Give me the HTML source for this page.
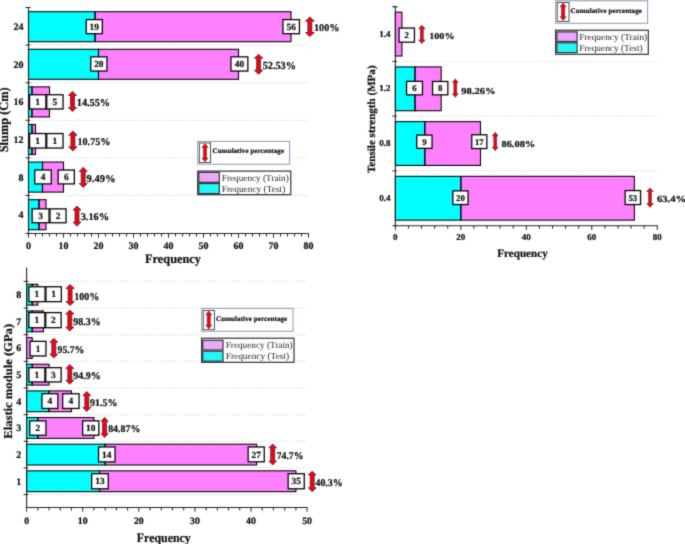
<!DOCTYPE html>
<html><head><meta charset="utf-8"><title>Frequency charts</title>
<style>
html,body{margin:0;padding:0;background:#fff;}
body{width:685px;height:544px;overflow:hidden;}
svg{display:block;font-family:"Liberation Serif", serif;text-rendering:geometricPrecision;}
</style></head>
<body>
<svg width="685" height="544" viewBox="0 0 685 544">
<defs><filter id="soft" filterUnits="userSpaceOnUse" x="0" y="0" width="685" height="544" color-interpolation-filters="sRGB"><feConvolveMatrix order="3" kernelMatrix="0.01960 0.10080 0.01960 0.10080 0.51840 0.10080 0.01960 0.10080 0.01960" edgeMode="duplicate"/></filter></defs>
<g filter="url(#soft)">
<rect x="0" y="0" width="685" height="544" fill="#ffffff"/>
<line x1="29.5" y1="45.1" x2="308.5" y2="45.1" stroke="#d6d6d6" stroke-width="0.9" stroke-dasharray="1.1,1.1"/>
<line x1="29.5" y1="82.7" x2="308.5" y2="82.7" stroke="#d6d6d6" stroke-width="0.9" stroke-dasharray="1.1,1.1"/>
<line x1="29.5" y1="120.3" x2="308.5" y2="120.3" stroke="#d6d6d6" stroke-width="0.9" stroke-dasharray="1.1,1.1"/>
<line x1="29.5" y1="157.9" x2="308.5" y2="157.9" stroke="#d6d6d6" stroke-width="0.9" stroke-dasharray="1.1,1.1"/>
<line x1="29.5" y1="195.5" x2="308.5" y2="195.5" stroke="#d6d6d6" stroke-width="0.9" stroke-dasharray="1.1,1.1"/>
<rect x="28.5" y="11.7" width="66.5" height="30" fill="#00ffff"/>
<rect x="95" y="11.7" width="196" height="30" fill="#ff80ff"/>
<rect x="28.5" y="11.7" width="66.5" height="30" fill="none" stroke="#080808" stroke-width="1.1"/>
<rect x="95" y="11.7" width="196" height="30" fill="none" stroke="#080808" stroke-width="1.1"/>
<rect x="28.5" y="49.3" width="70" height="30" fill="#00ffff"/>
<rect x="98.5" y="49.3" width="140" height="30" fill="#ff80ff"/>
<rect x="28.5" y="49.3" width="70" height="30" fill="none" stroke="#080808" stroke-width="1.1"/>
<rect x="98.5" y="49.3" width="140" height="30" fill="none" stroke="#080808" stroke-width="1.1"/>
<rect x="28.5" y="86.9" width="3.5" height="30" fill="#00ffff"/>
<rect x="32" y="86.9" width="17.5" height="30" fill="#ff80ff"/>
<rect x="28.5" y="86.9" width="3.5" height="30" fill="none" stroke="#080808" stroke-width="1.1"/>
<rect x="32" y="86.9" width="17.5" height="30" fill="none" stroke="#080808" stroke-width="1.1"/>
<rect x="28.5" y="124.5" width="3.5" height="30" fill="#00ffff"/>
<rect x="32" y="124.5" width="3.5" height="30" fill="#ff80ff"/>
<rect x="28.5" y="124.5" width="3.5" height="30" fill="none" stroke="#080808" stroke-width="1.1"/>
<rect x="32" y="124.5" width="3.5" height="30" fill="none" stroke="#080808" stroke-width="1.1"/>
<rect x="28.5" y="162.1" width="14" height="30" fill="#00ffff"/>
<rect x="42.5" y="162.1" width="21" height="30" fill="#ff80ff"/>
<rect x="28.5" y="162.1" width="14" height="30" fill="none" stroke="#080808" stroke-width="1.1"/>
<rect x="42.5" y="162.1" width="21" height="30" fill="none" stroke="#080808" stroke-width="1.1"/>
<rect x="28.5" y="199.7" width="10.5" height="30" fill="#00ffff"/>
<rect x="39" y="199.7" width="7" height="30" fill="#ff80ff"/>
<rect x="28.5" y="199.7" width="10.5" height="30" fill="none" stroke="#080808" stroke-width="1.1"/>
<rect x="39" y="199.7" width="7" height="30" fill="none" stroke="#080808" stroke-width="1.1"/>
<line x1="28.5" y1="7.5" x2="28.5" y2="234" stroke="#262626" stroke-width="1.1"/>
<line x1="25.5" y1="7.5" x2="30.3" y2="7.5" stroke="#262626" stroke-width="1"/>
<line x1="25.5" y1="45.1" x2="30.3" y2="45.1" stroke="#262626" stroke-width="1"/>
<line x1="25.5" y1="82.7" x2="30.3" y2="82.7" stroke="#262626" stroke-width="1"/>
<line x1="25.5" y1="120.3" x2="30.3" y2="120.3" stroke="#262626" stroke-width="1"/>
<line x1="25.5" y1="157.9" x2="30.3" y2="157.9" stroke="#262626" stroke-width="1"/>
<line x1="25.5" y1="195.5" x2="30.3" y2="195.5" stroke="#262626" stroke-width="1"/>
<line x1="25.5" y1="233.5" x2="30.3" y2="233.5" stroke="#262626" stroke-width="1"/>
<line x1="26.3" y1="7.5" x2="30.5" y2="7.5" stroke="#262626" stroke-width="1"/>
<line x1="27.95" y1="233.5" x2="309" y2="233.5" stroke="#262626" stroke-width="1.1"/>
<line x1="28.5" y1="233.5" x2="28.5" y2="237.7" stroke="#262626" stroke-width="1"/>
<line x1="35.5" y1="233.5" x2="35.5" y2="236.5" stroke="#262626" stroke-width="1"/>
<line x1="42.5" y1="233.5" x2="42.5" y2="236.5" stroke="#262626" stroke-width="1"/>
<line x1="49.5" y1="233.5" x2="49.5" y2="236.5" stroke="#262626" stroke-width="1"/>
<line x1="56.5" y1="233.5" x2="56.5" y2="236.5" stroke="#262626" stroke-width="1"/>
<line x1="63.5" y1="233.5" x2="63.5" y2="237.7" stroke="#262626" stroke-width="1"/>
<line x1="70.5" y1="233.5" x2="70.5" y2="236.5" stroke="#262626" stroke-width="1"/>
<line x1="77.5" y1="233.5" x2="77.5" y2="236.5" stroke="#262626" stroke-width="1"/>
<line x1="84.5" y1="233.5" x2="84.5" y2="236.5" stroke="#262626" stroke-width="1"/>
<line x1="91.5" y1="233.5" x2="91.5" y2="236.5" stroke="#262626" stroke-width="1"/>
<line x1="98.5" y1="233.5" x2="98.5" y2="237.7" stroke="#262626" stroke-width="1"/>
<line x1="105.5" y1="233.5" x2="105.5" y2="236.5" stroke="#262626" stroke-width="1"/>
<line x1="112.5" y1="233.5" x2="112.5" y2="236.5" stroke="#262626" stroke-width="1"/>
<line x1="119.5" y1="233.5" x2="119.5" y2="236.5" stroke="#262626" stroke-width="1"/>
<line x1="126.5" y1="233.5" x2="126.5" y2="236.5" stroke="#262626" stroke-width="1"/>
<line x1="133.5" y1="233.5" x2="133.5" y2="237.7" stroke="#262626" stroke-width="1"/>
<line x1="140.5" y1="233.5" x2="140.5" y2="236.5" stroke="#262626" stroke-width="1"/>
<line x1="147.5" y1="233.5" x2="147.5" y2="236.5" stroke="#262626" stroke-width="1"/>
<line x1="154.5" y1="233.5" x2="154.5" y2="236.5" stroke="#262626" stroke-width="1"/>
<line x1="161.5" y1="233.5" x2="161.5" y2="236.5" stroke="#262626" stroke-width="1"/>
<line x1="168.5" y1="233.5" x2="168.5" y2="237.7" stroke="#262626" stroke-width="1"/>
<line x1="175.5" y1="233.5" x2="175.5" y2="236.5" stroke="#262626" stroke-width="1"/>
<line x1="182.5" y1="233.5" x2="182.5" y2="236.5" stroke="#262626" stroke-width="1"/>
<line x1="189.5" y1="233.5" x2="189.5" y2="236.5" stroke="#262626" stroke-width="1"/>
<line x1="196.5" y1="233.5" x2="196.5" y2="236.5" stroke="#262626" stroke-width="1"/>
<line x1="203.5" y1="233.5" x2="203.5" y2="237.7" stroke="#262626" stroke-width="1"/>
<line x1="210.5" y1="233.5" x2="210.5" y2="236.5" stroke="#262626" stroke-width="1"/>
<line x1="217.5" y1="233.5" x2="217.5" y2="236.5" stroke="#262626" stroke-width="1"/>
<line x1="224.5" y1="233.5" x2="224.5" y2="236.5" stroke="#262626" stroke-width="1"/>
<line x1="231.5" y1="233.5" x2="231.5" y2="236.5" stroke="#262626" stroke-width="1"/>
<line x1="238.5" y1="233.5" x2="238.5" y2="237.7" stroke="#262626" stroke-width="1"/>
<line x1="245.5" y1="233.5" x2="245.5" y2="236.5" stroke="#262626" stroke-width="1"/>
<line x1="252.5" y1="233.5" x2="252.5" y2="236.5" stroke="#262626" stroke-width="1"/>
<line x1="259.5" y1="233.5" x2="259.5" y2="236.5" stroke="#262626" stroke-width="1"/>
<line x1="266.5" y1="233.5" x2="266.5" y2="236.5" stroke="#262626" stroke-width="1"/>
<line x1="273.5" y1="233.5" x2="273.5" y2="237.7" stroke="#262626" stroke-width="1"/>
<line x1="280.5" y1="233.5" x2="280.5" y2="236.5" stroke="#262626" stroke-width="1"/>
<line x1="287.5" y1="233.5" x2="287.5" y2="236.5" stroke="#262626" stroke-width="1"/>
<line x1="294.5" y1="233.5" x2="294.5" y2="236.5" stroke="#262626" stroke-width="1"/>
<line x1="301.5" y1="233.5" x2="301.5" y2="236.5" stroke="#262626" stroke-width="1"/>
<line x1="308.5" y1="233.5" x2="308.5" y2="237.7" stroke="#262626" stroke-width="1"/>
<text x="28.5" y="249" font-size="10" font-weight="bold" text-anchor="middle" fill="#111" stroke="#111" stroke-width="0.22">0</text>
<text x="63.5" y="249" font-size="10" font-weight="bold" text-anchor="middle" fill="#111" stroke="#111" stroke-width="0.22">10</text>
<text x="98.5" y="249" font-size="10" font-weight="bold" text-anchor="middle" fill="#111" stroke="#111" stroke-width="0.22">20</text>
<text x="133.5" y="249" font-size="10" font-weight="bold" text-anchor="middle" fill="#111" stroke="#111" stroke-width="0.22">30</text>
<text x="168.5" y="249" font-size="10" font-weight="bold" text-anchor="middle" fill="#111" stroke="#111" stroke-width="0.22">40</text>
<text x="203.5" y="249" font-size="10" font-weight="bold" text-anchor="middle" fill="#111" stroke="#111" stroke-width="0.22">50</text>
<text x="238.5" y="249" font-size="10" font-weight="bold" text-anchor="middle" fill="#111" stroke="#111" stroke-width="0.22">60</text>
<text x="273.5" y="249" font-size="10" font-weight="bold" text-anchor="middle" fill="#111" stroke="#111" stroke-width="0.22">70</text>
<text x="308.5" y="249" font-size="10" font-weight="bold" text-anchor="middle" fill="#111" stroke="#111" stroke-width="0.22">80</text>
<text x="23.6" y="30.1" font-size="10" font-weight="bold" text-anchor="end" fill="#111" stroke="#111" stroke-width="0.22">24</text>
<text x="23.6" y="67.7" font-size="10" font-weight="bold" text-anchor="end" fill="#111" stroke="#111" stroke-width="0.22">20</text>
<text x="23.6" y="105.3" font-size="10" font-weight="bold" text-anchor="end" fill="#111" stroke="#111" stroke-width="0.22">16</text>
<text x="23.6" y="142.9" font-size="10" font-weight="bold" text-anchor="end" fill="#111" stroke="#111" stroke-width="0.22">12</text>
<text x="23.6" y="180.5" font-size="10" font-weight="bold" text-anchor="end" fill="#111" stroke="#111" stroke-width="0.22">8</text>
<text x="23.6" y="218.1" font-size="10" font-weight="bold" text-anchor="end" fill="#111" stroke="#111" stroke-width="0.22">4</text>
<text x="173" y="262.8" font-size="13" font-weight="bold" text-anchor="middle" fill="#111" stroke="#111" stroke-width="0.22" textLength="56" lengthAdjust="spacingAndGlyphs">Frequency</text>
<text x="0" y="0" font-size="13" font-weight="bold" text-anchor="middle" fill="#111" stroke="#111" stroke-width="0.22" textLength="65" lengthAdjust="spacingAndGlyphs" transform="translate(8.1,119.8) rotate(-90)">Slump (Cm)</text>
<rect x="86.25" y="19.6" width="16.1" height="14.1" fill="#ffffff" stroke="#080808" stroke-width="1.3"/>
<text x="94.3" y="29.85" font-size="9.4" font-weight="bold" text-anchor="middle" fill="#111" stroke="#111" stroke-width="0.22">19</text>
<rect x="282.95" y="19.6" width="16.5" height="14.1" fill="#ffffff" stroke="#080808" stroke-width="1.3"/>
<text x="291.2" y="29.85" font-size="9.4" font-weight="bold" text-anchor="middle" fill="#111" stroke="#111" stroke-width="0.22">56</text>
<path d="M309.85,17.1 L314.35,21.2 L311.85,21.2 L311.85,32.5 L314.35,32.5 L309.85,36.6 L305.35,32.5 L307.85,32.5 L307.85,21.2 L305.35,21.2Z" fill="#ff0000" stroke="#222a55" stroke-width="0.75" stroke-linejoin="miter"/>
<text x="313.95" y="31.02" font-size="10.4" font-weight="bold" text-anchor="start" fill="#111" stroke="#111" stroke-width="0.22" textLength="25.5" lengthAdjust="spacingAndGlyphs">100%</text>
<rect x="90.75" y="56.85" width="16.2" height="14.2" fill="#ffffff" stroke="#080808" stroke-width="1.3"/>
<text x="98.85" y="67.15" font-size="9.4" font-weight="bold" text-anchor="middle" fill="#111" stroke="#111" stroke-width="0.22">20</text>
<rect x="230.95" y="56.85" width="16.9" height="14.2" fill="#ffffff" stroke="#080808" stroke-width="1.3"/>
<text x="239.4" y="67.15" font-size="9.4" font-weight="bold" text-anchor="middle" fill="#111" stroke="#111" stroke-width="0.22">40</text>
<path d="M258.6,54.2 L262.9,58.3 L260.6,58.3 L260.6,70.2 L262.9,70.2 L258.6,74.3 L254.3,70.2 L256.6,70.2 L256.6,58.3 L254.3,58.3Z" fill="#ff0000" stroke="#222a55" stroke-width="0.75" stroke-linejoin="miter"/>
<text x="262.65" y="68.88" font-size="10.9" font-weight="bold" text-anchor="start" fill="#111" stroke="#111" stroke-width="0.22" textLength="33.4" lengthAdjust="spacingAndGlyphs">52.53%</text>
<rect x="29.55" y="94.75" width="16.3" height="14.2" fill="#ffffff" stroke="#080808" stroke-width="1.3"/>
<text x="37.7" y="105.05" font-size="9.4" font-weight="bold" text-anchor="middle" fill="#111" stroke="#111" stroke-width="0.22">1</text>
<rect x="46.75" y="94.75" width="16.3" height="14.2" fill="#ffffff" stroke="#080808" stroke-width="1.3"/>
<text x="54.9" y="105.05" font-size="9.4" font-weight="bold" text-anchor="middle" fill="#111" stroke="#111" stroke-width="0.22">5</text>
<path d="M72.5,91.3 L76.7,95.4 L74.5,95.4 L74.5,107.5 L76.7,107.5 L72.5,111.6 L68.3,107.5 L70.5,107.5 L70.5,95.4 L68.3,95.4Z" fill="#ff0000" stroke="#222a55" stroke-width="0.75" stroke-linejoin="miter"/>
<text x="76.75" y="106.12" font-size="10.7" font-weight="bold" text-anchor="start" fill="#111" stroke="#111" stroke-width="0.22" textLength="33.4" lengthAdjust="spacingAndGlyphs">14.55%</text>
<rect x="29.55" y="133.55" width="16.3" height="14.5" fill="#ffffff" stroke="#080808" stroke-width="1.3"/>
<text x="37.7" y="144" font-size="9.4" font-weight="bold" text-anchor="middle" fill="#111" stroke="#111" stroke-width="0.22">1</text>
<rect x="46.75" y="133.55" width="16.3" height="14.5" fill="#ffffff" stroke="#080808" stroke-width="1.3"/>
<text x="54.9" y="144" font-size="9.4" font-weight="bold" text-anchor="middle" fill="#111" stroke="#111" stroke-width="0.22">1</text>
<path d="M72.9,131.1 L77.1,135.2 L74.9,135.2 L74.9,146.8 L77.1,146.8 L72.9,150.9 L68.7,146.8 L70.9,146.8 L70.9,135.2 L68.7,135.2Z" fill="#ff0000" stroke="#222a55" stroke-width="0.75" stroke-linejoin="miter"/>
<text x="77.45" y="145.17" font-size="10.4" font-weight="bold" text-anchor="start" fill="#111" stroke="#111" stroke-width="0.22" textLength="33.1" lengthAdjust="spacingAndGlyphs">10.75%</text>
<rect x="34.75" y="170" width="16.5" height="13.9" fill="#ffffff" stroke="#080808" stroke-width="1.3"/>
<text x="43" y="180.15" font-size="9.4" font-weight="bold" text-anchor="middle" fill="#111" stroke="#111" stroke-width="0.22">4</text>
<rect x="58.15" y="170" width="16.2" height="13.9" fill="#ffffff" stroke="#080808" stroke-width="1.3"/>
<text x="66.25" y="180.15" font-size="9.4" font-weight="bold" text-anchor="middle" fill="#111" stroke="#111" stroke-width="0.22">6</text>
<path d="M83.2,167.3 L87.2,171.4 L85.2,171.4 L85.2,183.5 L87.2,183.5 L83.2,187.6 L79.2,183.5 L81.2,183.5 L81.2,171.4 L79.2,171.4Z" fill="#ff0000" stroke="#222a55" stroke-width="0.75" stroke-linejoin="miter"/>
<text x="86.55" y="181.9" font-size="10.5" font-weight="bold" text-anchor="start" fill="#111" stroke="#111" stroke-width="0.22" textLength="29" lengthAdjust="spacingAndGlyphs">9.49%</text>
<rect x="32.15" y="208.85" width="16.9" height="13.9" fill="#ffffff" stroke="#080808" stroke-width="1.3"/>
<text x="40.6" y="219" font-size="9.4" font-weight="bold" text-anchor="middle" fill="#111" stroke="#111" stroke-width="0.22">3</text>
<rect x="49.95" y="208.85" width="16.1" height="13.9" fill="#ffffff" stroke="#080808" stroke-width="1.3"/>
<text x="58" y="219" font-size="9.4" font-weight="bold" text-anchor="middle" fill="#111" stroke="#111" stroke-width="0.22">2</text>
<path d="M77,206 L81,210.1 L79,210.1 L79,222.1 L81,222.1 L77,226.2 L73,222.1 L75,222.1 L75,210.1 L73,210.1Z" fill="#ff0000" stroke="#222a55" stroke-width="0.75" stroke-linejoin="miter"/>
<text x="80.7" y="220.32" font-size="10.4" font-weight="bold" text-anchor="start" fill="#111" stroke="#111" stroke-width="0.22" textLength="28.45" lengthAdjust="spacingAndGlyphs">3.16%</text>
<rect x="197.7" y="141.4" width="91.9" height="22.8" fill="#ffffff" stroke="#8c98b8" stroke-width="1"/>
<rect x="199.3" y="143" width="11.3" height="19.6" fill="#ffffff" stroke="#3a3a3a" stroke-width="0.9"/>
<path d="M204.95,143.6 L208.05,147.4 L206.55,147.4 L206.55,158 L208.05,158 L204.95,161.8 L201.85,158 L203.35,158 L203.35,147.4 L201.85,147.4Z" fill="#ff0000" stroke="#222a55" stroke-width="0.5" stroke-linejoin="miter"/>
<text x="212.5" y="153.38" font-size="7" font-weight="bold" text-anchor="start" fill="#111" stroke="#111" stroke-width="0.22" textLength="71.5" lengthAdjust="spacing">Cumulative percentage</text>
<rect x="197.7" y="171.1" width="93.1" height="23.6" fill="#ffffff" stroke="#2a2a2a" stroke-width="1.15"/>
<rect x="198.8" y="172.3" width="20.5" height="10" fill="#eaa8f8" stroke="#333" stroke-width="1.2"/>
<rect x="198.8" y="183.5" width="20.5" height="10.1" fill="#22f8f8" stroke="#333" stroke-width="1.2"/>
<text x="221.8" y="180.67" font-size="9.3" font-weight="normal" text-anchor="start" fill="#262626" textLength="67" lengthAdjust="spacingAndGlyphs">Frequency (Train)</text>
<text x="221.8" y="191.57" font-size="9.3" font-weight="normal" text-anchor="start" fill="#262626" textLength="63.5" lengthAdjust="spacingAndGlyphs">Frequency (Test)</text>
<line x1="396.35" y1="61.42" x2="657.27" y2="61.42" stroke="#d6d6d6" stroke-width="0.9" stroke-dasharray="1.1,1.1"/>
<line x1="396.35" y1="116.14" x2="657.27" y2="116.14" stroke="#d6d6d6" stroke-width="0.9" stroke-dasharray="1.1,1.1"/>
<line x1="396.35" y1="170.86" x2="657.27" y2="170.86" stroke="#d6d6d6" stroke-width="0.9" stroke-dasharray="1.1,1.1"/>
<rect x="395.35" y="12.2" width="6.55" height="43.8" fill="#ff80ff"/>
<rect x="395.35" y="12.2" width="6.55" height="43.8" fill="none" stroke="#080808" stroke-width="1.1"/>
<rect x="395.35" y="66.92" width="19.64" height="43.8" fill="#00ffff"/>
<rect x="414.99" y="66.92" width="26.19" height="43.8" fill="#ff80ff"/>
<rect x="395.35" y="66.92" width="19.64" height="43.8" fill="none" stroke="#080808" stroke-width="1.1"/>
<rect x="414.99" y="66.92" width="26.19" height="43.8" fill="none" stroke="#080808" stroke-width="1.1"/>
<rect x="395.35" y="121.64" width="29.47" height="43.8" fill="#00ffff"/>
<rect x="424.82" y="121.64" width="55.66" height="43.8" fill="#ff80ff"/>
<rect x="395.35" y="121.64" width="29.47" height="43.8" fill="none" stroke="#080808" stroke-width="1.1"/>
<rect x="424.82" y="121.64" width="55.66" height="43.8" fill="none" stroke="#080808" stroke-width="1.1"/>
<rect x="395.35" y="176.36" width="65.48" height="43.8" fill="#00ffff"/>
<rect x="460.83" y="176.36" width="173.52" height="43.8" fill="#ff80ff"/>
<rect x="395.35" y="176.36" width="65.48" height="43.8" fill="none" stroke="#080808" stroke-width="1.1"/>
<rect x="460.83" y="176.36" width="173.52" height="43.8" fill="none" stroke="#080808" stroke-width="1.1"/>
<line x1="395.35" y1="6.7" x2="395.35" y2="226.2" stroke="#262626" stroke-width="1.1"/>
<line x1="392.35" y1="6.7" x2="396.85" y2="6.7" stroke="#262626" stroke-width="1"/>
<line x1="392.35" y1="61.42" x2="396.85" y2="61.42" stroke="#262626" stroke-width="1"/>
<line x1="392.35" y1="116.14" x2="396.85" y2="116.14" stroke="#262626" stroke-width="1"/>
<line x1="392.35" y1="170.86" x2="396.85" y2="170.86" stroke="#262626" stroke-width="1"/>
<line x1="392.35" y1="225.7" x2="396.85" y2="225.7" stroke="#262626" stroke-width="1"/>
<line x1="393.15" y1="6.7" x2="397.35" y2="6.7" stroke="#262626" stroke-width="1"/>
<line x1="394.8" y1="225.7" x2="657.77" y2="225.7" stroke="#262626" stroke-width="1.1"/>
<line x1="395.35" y1="225.7" x2="395.35" y2="229.9" stroke="#262626" stroke-width="1"/>
<line x1="408.45" y1="225.7" x2="408.45" y2="228.7" stroke="#262626" stroke-width="1"/>
<line x1="421.54" y1="225.7" x2="421.54" y2="228.7" stroke="#262626" stroke-width="1"/>
<line x1="434.64" y1="225.7" x2="434.64" y2="228.7" stroke="#262626" stroke-width="1"/>
<line x1="447.73" y1="225.7" x2="447.73" y2="228.7" stroke="#262626" stroke-width="1"/>
<line x1="460.83" y1="225.7" x2="460.83" y2="229.9" stroke="#262626" stroke-width="1"/>
<line x1="473.93" y1="225.7" x2="473.93" y2="228.7" stroke="#262626" stroke-width="1"/>
<line x1="487.02" y1="225.7" x2="487.02" y2="228.7" stroke="#262626" stroke-width="1"/>
<line x1="500.12" y1="225.7" x2="500.12" y2="228.7" stroke="#262626" stroke-width="1"/>
<line x1="513.21" y1="225.7" x2="513.21" y2="228.7" stroke="#262626" stroke-width="1"/>
<line x1="526.31" y1="225.7" x2="526.31" y2="229.9" stroke="#262626" stroke-width="1"/>
<line x1="539.41" y1="225.7" x2="539.41" y2="228.7" stroke="#262626" stroke-width="1"/>
<line x1="552.5" y1="225.7" x2="552.5" y2="228.7" stroke="#262626" stroke-width="1"/>
<line x1="565.6" y1="225.7" x2="565.6" y2="228.7" stroke="#262626" stroke-width="1"/>
<line x1="578.69" y1="225.7" x2="578.69" y2="228.7" stroke="#262626" stroke-width="1"/>
<line x1="591.79" y1="225.7" x2="591.79" y2="229.9" stroke="#262626" stroke-width="1"/>
<line x1="604.89" y1="225.7" x2="604.89" y2="228.7" stroke="#262626" stroke-width="1"/>
<line x1="617.98" y1="225.7" x2="617.98" y2="228.7" stroke="#262626" stroke-width="1"/>
<line x1="631.08" y1="225.7" x2="631.08" y2="228.7" stroke="#262626" stroke-width="1"/>
<line x1="644.17" y1="225.7" x2="644.17" y2="228.7" stroke="#262626" stroke-width="1"/>
<line x1="657.27" y1="225.7" x2="657.27" y2="229.9" stroke="#262626" stroke-width="1"/>
<text x="395.35" y="240.3" font-size="9" font-weight="bold" text-anchor="middle" fill="#111" stroke="#111" stroke-width="0.22">0</text>
<text x="460.83" y="240.3" font-size="9" font-weight="bold" text-anchor="middle" fill="#111" stroke="#111" stroke-width="0.22">20</text>
<text x="526.31" y="240.3" font-size="9" font-weight="bold" text-anchor="middle" fill="#111" stroke="#111" stroke-width="0.22">40</text>
<text x="591.79" y="240.3" font-size="9" font-weight="bold" text-anchor="middle" fill="#111" stroke="#111" stroke-width="0.22">60</text>
<text x="657.27" y="240.3" font-size="9" font-weight="bold" text-anchor="middle" fill="#111" stroke="#111" stroke-width="0.22">80</text>
<text x="390.5" y="36.56" font-size="9" font-weight="bold" text-anchor="end" fill="#111" stroke="#111" stroke-width="0.22">1.4</text>
<text x="390.5" y="91.28" font-size="9" font-weight="bold" text-anchor="end" fill="#111" stroke="#111" stroke-width="0.22">1.2</text>
<text x="390.5" y="146" font-size="9" font-weight="bold" text-anchor="end" fill="#111" stroke="#111" stroke-width="0.22">0.8</text>
<text x="390.5" y="200.72" font-size="9" font-weight="bold" text-anchor="end" fill="#111" stroke="#111" stroke-width="0.22">0.4</text>
<text x="522.5" y="256.9" font-size="11.3" font-weight="bold" text-anchor="middle" fill="#111" stroke="#111" stroke-width="0.22" textLength="50.4" lengthAdjust="spacingAndGlyphs">Frequency</text>
<text x="0" y="0" font-size="11" font-weight="bold" text-anchor="middle" fill="#111" stroke="#111" stroke-width="0.22" textLength="107.6" lengthAdjust="spacingAndGlyphs" transform="translate(374.9,119.2) rotate(-90)">Tensile strength (MPa)</text>
<rect x="399.05" y="28.05" width="15.4" height="14.1" fill="#ffffff" stroke="#080808" stroke-width="1.3"/>
<text x="406.75" y="38.09" font-size="8.8" font-weight="bold" text-anchor="middle" fill="#111" stroke="#111" stroke-width="0.22">2</text>
<path d="M421.9,25.2 L425.2,28.8 L423.3,28.8 L423.3,39.9 L425.2,39.9 L421.9,43.5 L418.6,39.9 L420.5,39.9 L420.5,28.8 L418.6,28.8Z" fill="#ff0000" stroke="#222a55" stroke-width="0.6" stroke-linejoin="miter"/>
<text x="429.25" y="38.81" font-size="9.2" font-weight="bold" text-anchor="start" fill="#111" stroke="#111" stroke-width="0.22" textLength="25.3" lengthAdjust="spacingAndGlyphs">100%</text>
<rect x="406.55" y="81.35" width="15.9" height="13.5" fill="#ffffff" stroke="#080808" stroke-width="1.3"/>
<text x="414.5" y="91.09" font-size="8.8" font-weight="bold" text-anchor="middle" fill="#111" stroke="#111" stroke-width="0.22">6</text>
<rect x="432.55" y="81.45" width="15.3" height="13.4" fill="#ffffff" stroke="#080808" stroke-width="1.3"/>
<text x="440.2" y="91.14" font-size="8.8" font-weight="bold" text-anchor="middle" fill="#111" stroke="#111" stroke-width="0.22">8</text>
<path d="M455.3,78.9 L458.2,82.5 L456.7,82.5 L456.7,93.7 L458.2,93.7 L455.3,97.3 L452.4,93.7 L453.9,93.7 L453.9,82.5 L452.4,82.5Z" fill="#ff0000" stroke="#222a55" stroke-width="0.6" stroke-linejoin="miter"/>
<text x="461.35" y="93.86" font-size="9.2" font-weight="bold" text-anchor="start" fill="#111" stroke="#111" stroke-width="0.22" textLength="34.3" lengthAdjust="spacingAndGlyphs">98.26%</text>
<rect x="416.75" y="135.05" width="15.3" height="13.3" fill="#ffffff" stroke="#080808" stroke-width="1.3"/>
<text x="424.4" y="144.69" font-size="8.8" font-weight="bold" text-anchor="middle" fill="#111" stroke="#111" stroke-width="0.22">9</text>
<rect x="471.75" y="134.75" width="15.1" height="13.8" fill="#ffffff" stroke="#080808" stroke-width="1.3"/>
<text x="479.3" y="144.64" font-size="8.8" font-weight="bold" text-anchor="middle" fill="#111" stroke="#111" stroke-width="0.22">17</text>
<path d="M495.2,132.3 L498.1,135.9 L496.6,135.9 L496.6,147.1 L498.1,147.1 L495.2,150.7 L492.3,147.1 L493.8,147.1 L493.8,135.9 L492.3,135.9Z" fill="#ff0000" stroke="#222a55" stroke-width="0.6" stroke-linejoin="miter"/>
<text x="501.45" y="147.01" font-size="9.2" font-weight="bold" text-anchor="start" fill="#111" stroke="#111" stroke-width="0.22" textLength="33.8" lengthAdjust="spacingAndGlyphs">86.08%</text>
<rect x="452.85" y="190.85" width="15.2" height="13.7" fill="#ffffff" stroke="#080808" stroke-width="1.3"/>
<text x="460.45" y="200.69" font-size="8.8" font-weight="bold" text-anchor="middle" fill="#111" stroke="#111" stroke-width="0.22">20</text>
<rect x="625.15" y="190.55" width="15.4" height="14" fill="#ffffff" stroke="#080808" stroke-width="1.3"/>
<text x="632.85" y="200.54" font-size="8.8" font-weight="bold" text-anchor="middle" fill="#111" stroke="#111" stroke-width="0.22">53</text>
<path d="M650,188 L653.3,191.6 L651.4,191.6 L651.4,203.6 L653.3,203.6 L650,207.2 L646.7,203.6 L648.6,203.6 L648.6,191.6 L646.7,191.6Z" fill="#ff0000" stroke="#222a55" stroke-width="0.6" stroke-linejoin="miter"/>
<text x="656.95" y="201.78" font-size="9.4" font-weight="bold" text-anchor="start" fill="#111" stroke="#111" stroke-width="0.22" textLength="29.3" lengthAdjust="spacingAndGlyphs">63.4%</text>
<rect x="555.6" y="0.8" width="92" height="22.5" fill="#ffffff" stroke="#8c98b8" stroke-width="1"/>
<rect x="557.2" y="2.4" width="11.8" height="19" fill="#ffffff" stroke="#3a3a3a" stroke-width="0.9"/>
<path d="M563.1,3 L566.2,6.8 L564.7,6.8 L564.7,16.8 L566.2,16.8 L563.1,20.6 L560,16.8 L561.5,16.8 L561.5,6.8 L560,6.8Z" fill="#ff0000" stroke="#222a55" stroke-width="0.5" stroke-linejoin="miter"/>
<text x="570.6" y="13.28" font-size="7" font-weight="bold" text-anchor="start" fill="#111" stroke="#111" stroke-width="0.22" textLength="71.3" lengthAdjust="spacing">Cumulative percentage</text>
<rect x="555.6" y="30.2" width="92.7" height="24.1" fill="#ffffff" stroke="#2a2a2a" stroke-width="1.15"/>
<rect x="556.9" y="31.9" width="20.2" height="9.6" fill="#eaa8f8" stroke="#333" stroke-width="1.2"/>
<rect x="556.9" y="42.8" width="20.2" height="9.8" fill="#22f8f8" stroke="#333" stroke-width="1.2"/>
<text x="579.2" y="39.67" font-size="9.3" font-weight="normal" text-anchor="start" fill="#262626" textLength="68" lengthAdjust="spacingAndGlyphs">Frequency (Train)</text>
<text x="579.2" y="50.97" font-size="9.3" font-weight="normal" text-anchor="start" fill="#262626" textLength="63.5" lengthAdjust="spacingAndGlyphs">Frequency (Test)</text>
<line x1="27.6" y1="281.4" x2="307.1" y2="281.4" stroke="#d6d6d6" stroke-width="0.9" stroke-dasharray="1.1,1.1"/>
<line x1="27.6" y1="308.05" x2="307.1" y2="308.05" stroke="#d6d6d6" stroke-width="0.9" stroke-dasharray="1.1,1.1"/>
<line x1="27.6" y1="334.7" x2="307.1" y2="334.7" stroke="#d6d6d6" stroke-width="0.9" stroke-dasharray="1.1,1.1"/>
<line x1="27.6" y1="361.35" x2="307.1" y2="361.35" stroke="#d6d6d6" stroke-width="0.9" stroke-dasharray="1.1,1.1"/>
<line x1="27.6" y1="388" x2="307.1" y2="388" stroke="#d6d6d6" stroke-width="0.9" stroke-dasharray="1.1,1.1"/>
<line x1="27.6" y1="414.65" x2="307.1" y2="414.65" stroke="#d6d6d6" stroke-width="0.9" stroke-dasharray="1.1,1.1"/>
<line x1="27.6" y1="441.3" x2="307.1" y2="441.3" stroke="#d6d6d6" stroke-width="0.9" stroke-dasharray="1.1,1.1"/>
<line x1="27.6" y1="467.95" x2="307.1" y2="467.95" stroke="#d6d6d6" stroke-width="0.9" stroke-dasharray="1.1,1.1"/>
<line x1="27.6" y1="494.6" x2="307.1" y2="494.6" stroke="#d6d6d6" stroke-width="0.9" stroke-dasharray="1.1,1.1"/>
<rect x="26.6" y="284.3" width="5.61" height="20.8" fill="#00ffff"/>
<rect x="32.21" y="284.3" width="5.61" height="20.8" fill="#ff80ff"/>
<rect x="26.6" y="284.3" width="5.61" height="20.8" fill="none" stroke="#080808" stroke-width="1.1"/>
<rect x="32.21" y="284.3" width="5.61" height="20.8" fill="none" stroke="#080808" stroke-width="1.1"/>
<rect x="26.6" y="310.95" width="5.61" height="20.8" fill="#00ffff"/>
<rect x="32.21" y="310.95" width="11.22" height="20.8" fill="#ff80ff"/>
<rect x="26.6" y="310.95" width="5.61" height="20.8" fill="none" stroke="#080808" stroke-width="1.1"/>
<rect x="32.21" y="310.95" width="11.22" height="20.8" fill="none" stroke="#080808" stroke-width="1.1"/>
<rect x="26.6" y="337.6" width="5.61" height="20.8" fill="#ff80ff"/>
<rect x="26.6" y="337.6" width="5.61" height="20.8" fill="none" stroke="#080808" stroke-width="1.1"/>
<rect x="26.6" y="364.25" width="5.61" height="20.8" fill="#00ffff"/>
<rect x="32.21" y="364.25" width="16.83" height="20.8" fill="#ff80ff"/>
<rect x="26.6" y="364.25" width="5.61" height="20.8" fill="none" stroke="#080808" stroke-width="1.1"/>
<rect x="32.21" y="364.25" width="16.83" height="20.8" fill="none" stroke="#080808" stroke-width="1.1"/>
<rect x="26.6" y="390.9" width="22.44" height="20.8" fill="#00ffff"/>
<rect x="49.04" y="390.9" width="22.44" height="20.8" fill="#ff80ff"/>
<rect x="26.6" y="390.9" width="22.44" height="20.8" fill="none" stroke="#080808" stroke-width="1.1"/>
<rect x="49.04" y="390.9" width="22.44" height="20.8" fill="none" stroke="#080808" stroke-width="1.1"/>
<rect x="26.6" y="417.55" width="11.22" height="20.8" fill="#00ffff"/>
<rect x="37.82" y="417.55" width="56.1" height="20.8" fill="#ff80ff"/>
<rect x="26.6" y="417.55" width="11.22" height="20.8" fill="none" stroke="#080808" stroke-width="1.1"/>
<rect x="37.82" y="417.55" width="56.1" height="20.8" fill="none" stroke="#080808" stroke-width="1.1"/>
<rect x="26.6" y="444.2" width="78.54" height="20.8" fill="#00ffff"/>
<rect x="105.14" y="444.2" width="151.47" height="20.8" fill="#ff80ff"/>
<rect x="26.6" y="444.2" width="78.54" height="20.8" fill="none" stroke="#080808" stroke-width="1.1"/>
<rect x="105.14" y="444.2" width="151.47" height="20.8" fill="none" stroke="#080808" stroke-width="1.1"/>
<rect x="26.6" y="470.85" width="72.93" height="20.8" fill="#00ffff"/>
<rect x="99.53" y="470.85" width="196.35" height="20.8" fill="#ff80ff"/>
<rect x="26.6" y="470.85" width="72.93" height="20.8" fill="none" stroke="#080808" stroke-width="1.1"/>
<rect x="99.53" y="470.85" width="196.35" height="20.8" fill="none" stroke="#080808" stroke-width="1.1"/>
<line x1="26.6" y1="267.4" x2="26.6" y2="508" stroke="#262626" stroke-width="1.1"/>
<line x1="23.6" y1="281.4" x2="28.4" y2="281.4" stroke="#262626" stroke-width="1"/>
<line x1="23.6" y1="308.05" x2="28.4" y2="308.05" stroke="#262626" stroke-width="1"/>
<line x1="23.6" y1="334.7" x2="28.4" y2="334.7" stroke="#262626" stroke-width="1"/>
<line x1="23.6" y1="361.35" x2="28.4" y2="361.35" stroke="#262626" stroke-width="1"/>
<line x1="23.6" y1="388" x2="28.4" y2="388" stroke="#262626" stroke-width="1"/>
<line x1="23.6" y1="414.65" x2="28.4" y2="414.65" stroke="#262626" stroke-width="1"/>
<line x1="23.6" y1="441.3" x2="28.4" y2="441.3" stroke="#262626" stroke-width="1"/>
<line x1="23.6" y1="467.95" x2="28.4" y2="467.95" stroke="#262626" stroke-width="1"/>
<line x1="23.6" y1="494.6" x2="28.4" y2="494.6" stroke="#262626" stroke-width="1"/>
<line x1="26.05" y1="507.5" x2="307.6" y2="507.5" stroke="#262626" stroke-width="1.1"/>
<line x1="26.6" y1="507.5" x2="26.6" y2="511.7" stroke="#262626" stroke-width="1"/>
<line x1="37.82" y1="507.5" x2="37.82" y2="510.5" stroke="#262626" stroke-width="1"/>
<line x1="49.04" y1="507.5" x2="49.04" y2="510.5" stroke="#262626" stroke-width="1"/>
<line x1="60.26" y1="507.5" x2="60.26" y2="510.5" stroke="#262626" stroke-width="1"/>
<line x1="71.48" y1="507.5" x2="71.48" y2="510.5" stroke="#262626" stroke-width="1"/>
<line x1="82.7" y1="507.5" x2="82.7" y2="511.7" stroke="#262626" stroke-width="1"/>
<line x1="93.92" y1="507.5" x2="93.92" y2="510.5" stroke="#262626" stroke-width="1"/>
<line x1="105.14" y1="507.5" x2="105.14" y2="510.5" stroke="#262626" stroke-width="1"/>
<line x1="116.36" y1="507.5" x2="116.36" y2="510.5" stroke="#262626" stroke-width="1"/>
<line x1="127.58" y1="507.5" x2="127.58" y2="510.5" stroke="#262626" stroke-width="1"/>
<line x1="138.8" y1="507.5" x2="138.8" y2="511.7" stroke="#262626" stroke-width="1"/>
<line x1="150.02" y1="507.5" x2="150.02" y2="510.5" stroke="#262626" stroke-width="1"/>
<line x1="161.24" y1="507.5" x2="161.24" y2="510.5" stroke="#262626" stroke-width="1"/>
<line x1="172.46" y1="507.5" x2="172.46" y2="510.5" stroke="#262626" stroke-width="1"/>
<line x1="183.68" y1="507.5" x2="183.68" y2="510.5" stroke="#262626" stroke-width="1"/>
<line x1="194.9" y1="507.5" x2="194.9" y2="511.7" stroke="#262626" stroke-width="1"/>
<line x1="206.12" y1="507.5" x2="206.12" y2="510.5" stroke="#262626" stroke-width="1"/>
<line x1="217.34" y1="507.5" x2="217.34" y2="510.5" stroke="#262626" stroke-width="1"/>
<line x1="228.56" y1="507.5" x2="228.56" y2="510.5" stroke="#262626" stroke-width="1"/>
<line x1="239.78" y1="507.5" x2="239.78" y2="510.5" stroke="#262626" stroke-width="1"/>
<line x1="251" y1="507.5" x2="251" y2="511.7" stroke="#262626" stroke-width="1"/>
<line x1="262.22" y1="507.5" x2="262.22" y2="510.5" stroke="#262626" stroke-width="1"/>
<line x1="273.44" y1="507.5" x2="273.44" y2="510.5" stroke="#262626" stroke-width="1"/>
<line x1="284.66" y1="507.5" x2="284.66" y2="510.5" stroke="#262626" stroke-width="1"/>
<line x1="295.88" y1="507.5" x2="295.88" y2="510.5" stroke="#262626" stroke-width="1"/>
<line x1="307.1" y1="507.5" x2="307.1" y2="511.7" stroke="#262626" stroke-width="1"/>
<text x="26.6" y="524" font-size="9.8" font-weight="bold" text-anchor="middle" fill="#111" stroke="#111" stroke-width="0.22">0</text>
<text x="82.7" y="524" font-size="9.8" font-weight="bold" text-anchor="middle" fill="#111" stroke="#111" stroke-width="0.22">10</text>
<text x="138.8" y="524" font-size="9.8" font-weight="bold" text-anchor="middle" fill="#111" stroke="#111" stroke-width="0.22">20</text>
<text x="194.9" y="524" font-size="9.8" font-weight="bold" text-anchor="middle" fill="#111" stroke="#111" stroke-width="0.22">30</text>
<text x="251" y="524" font-size="9.8" font-weight="bold" text-anchor="middle" fill="#111" stroke="#111" stroke-width="0.22">40</text>
<text x="307.1" y="524" font-size="9.8" font-weight="bold" text-anchor="middle" fill="#111" stroke="#111" stroke-width="0.22">50</text>
<text x="21.3" y="298.1" font-size="10" font-weight="bold" text-anchor="end" fill="#111" stroke="#111" stroke-width="0.22">8</text>
<text x="21.3" y="324.75" font-size="10" font-weight="bold" text-anchor="end" fill="#111" stroke="#111" stroke-width="0.22">7</text>
<text x="21.3" y="351.4" font-size="10" font-weight="bold" text-anchor="end" fill="#111" stroke="#111" stroke-width="0.22">6</text>
<text x="21.3" y="378.05" font-size="10" font-weight="bold" text-anchor="end" fill="#111" stroke="#111" stroke-width="0.22">5</text>
<text x="21.3" y="404.7" font-size="10" font-weight="bold" text-anchor="end" fill="#111" stroke="#111" stroke-width="0.22">4</text>
<text x="21.3" y="431.35" font-size="10" font-weight="bold" text-anchor="end" fill="#111" stroke="#111" stroke-width="0.22">3</text>
<text x="21.3" y="458" font-size="10" font-weight="bold" text-anchor="end" fill="#111" stroke="#111" stroke-width="0.22">2</text>
<text x="21.3" y="484.65" font-size="10" font-weight="bold" text-anchor="end" fill="#111" stroke="#111" stroke-width="0.22">1</text>
<text x="163.8" y="542" font-size="12.9" font-weight="bold" text-anchor="middle" fill="#111" stroke="#111" stroke-width="0.22" textLength="54" lengthAdjust="spacingAndGlyphs">Frequency</text>
<text x="0" y="0" font-size="11.9" font-weight="bold" text-anchor="middle" fill="#111" stroke="#111" stroke-width="0.22" textLength="114.8" lengthAdjust="spacingAndGlyphs" transform="translate(12.3,381.3) rotate(-90)">Elastic module (GPa)</text>
<rect x="28.85" y="286.75" width="16.2" height="14.9" fill="#ffffff" stroke="#080808" stroke-width="1.3"/>
<text x="36.95" y="297.4" font-size="9.4" font-weight="bold" text-anchor="middle" fill="#111" stroke="#111" stroke-width="0.22">1</text>
<rect x="45.95" y="286.75" width="15.4" height="14.9" fill="#ffffff" stroke="#080808" stroke-width="1.3"/>
<text x="53.65" y="297.4" font-size="9.4" font-weight="bold" text-anchor="middle" fill="#111" stroke="#111" stroke-width="0.22">1</text>
<path d="M70.1,284.5 L74.3,288.5 L72.1,288.5 L72.1,301.5 L74.3,301.5 L70.1,305.5 L65.9,301.5 L68.1,301.5 L68.1,288.5 L65.9,288.5Z" fill="#ff0000" stroke="#222a55" stroke-width="0.75" stroke-linejoin="miter"/>
<text x="74.15" y="299.83" font-size="10.6" font-weight="bold" text-anchor="start" fill="#111" stroke="#111" stroke-width="0.22" textLength="25.1" lengthAdjust="spacingAndGlyphs">100%</text>
<rect x="28.85" y="312.6" width="16" height="15.1" fill="#ffffff" stroke="#080808" stroke-width="1.3"/>
<text x="36.85" y="323.35" font-size="9.4" font-weight="bold" text-anchor="middle" fill="#111" stroke="#111" stroke-width="0.22">1</text>
<rect x="45.75" y="312.6" width="15.4" height="15.1" fill="#ffffff" stroke="#080808" stroke-width="1.3"/>
<text x="53.45" y="323.35" font-size="9.4" font-weight="bold" text-anchor="middle" fill="#111" stroke="#111" stroke-width="0.22">2</text>
<path d="M69.8,310.1 L74,314.1 L71.8,314.1 L71.8,327.1 L74,327.1 L69.8,331.1 L65.6,327.1 L67.8,327.1 L67.8,314.1 L65.6,314.1Z" fill="#ff0000" stroke="#222a55" stroke-width="0.75" stroke-linejoin="miter"/>
<text x="73.25" y="324.75" font-size="10.5" font-weight="bold" text-anchor="start" fill="#111" stroke="#111" stroke-width="0.22" textLength="27.5" lengthAdjust="spacingAndGlyphs">98.3%</text>
<rect x="30.05" y="341.35" width="15.9" height="14.6" fill="#ffffff" stroke="#080808" stroke-width="1.3"/>
<text x="38" y="351.85" font-size="9.4" font-weight="bold" text-anchor="middle" fill="#111" stroke="#111" stroke-width="0.22">1</text>
<path d="M53.8,338.3 L57.8,342.3 L55.8,342.3 L55.8,354.1 L57.8,354.1 L53.8,358.1 L49.8,354.1 L51.8,354.1 L51.8,342.3 L49.8,342.3Z" fill="#ff0000" stroke="#222a55" stroke-width="0.75" stroke-linejoin="miter"/>
<text x="57.55" y="352.62" font-size="10.4" font-weight="bold" text-anchor="start" fill="#111" stroke="#111" stroke-width="0.22" textLength="26.8" lengthAdjust="spacingAndGlyphs">95.7%</text>
<rect x="28.85" y="367.65" width="16" height="14.3" fill="#ffffff" stroke="#080808" stroke-width="1.3"/>
<text x="36.85" y="378" font-size="9.4" font-weight="bold" text-anchor="middle" fill="#111" stroke="#111" stroke-width="0.22">1</text>
<rect x="45.75" y="367.65" width="15.4" height="14.3" fill="#ffffff" stroke="#080808" stroke-width="1.3"/>
<text x="53.45" y="378" font-size="9.4" font-weight="bold" text-anchor="middle" fill="#111" stroke="#111" stroke-width="0.22">3</text>
<path d="M69.8,364.4 L73.8,368.4 L71.8,368.4 L71.8,380.3 L73.8,380.3 L69.8,384.3 L65.8,380.3 L67.8,380.3 L67.8,368.4 L65.8,368.4Z" fill="#ff0000" stroke="#222a55" stroke-width="0.75" stroke-linejoin="miter"/>
<text x="73.25" y="378.72" font-size="10.4" font-weight="bold" text-anchor="start" fill="#111" stroke="#111" stroke-width="0.22" textLength="27.5" lengthAdjust="spacingAndGlyphs">94.9%</text>
<rect x="41.95" y="393.75" width="15.9" height="14.7" fill="#ffffff" stroke="#080808" stroke-width="1.3"/>
<text x="49.9" y="404.3" font-size="9.4" font-weight="bold" text-anchor="middle" fill="#111" stroke="#111" stroke-width="0.22">4</text>
<rect x="62.65" y="393.75" width="16.4" height="14.7" fill="#ffffff" stroke="#080808" stroke-width="1.3"/>
<text x="70.85" y="404.3" font-size="9.4" font-weight="bold" text-anchor="middle" fill="#111" stroke="#111" stroke-width="0.22">4</text>
<path d="M86.8,391.5 L90.8,395.5 L88.8,395.5 L88.8,407.5 L90.8,407.5 L86.8,411.5 L82.8,407.5 L84.8,407.5 L84.8,395.5 L82.8,395.5Z" fill="#ff0000" stroke="#222a55" stroke-width="0.75" stroke-linejoin="miter"/>
<text x="90.05" y="406.32" font-size="10.4" font-weight="bold" text-anchor="start" fill="#111" stroke="#111" stroke-width="0.22" textLength="27.3" lengthAdjust="spacingAndGlyphs">91.5%</text>
<rect x="29.75" y="420.85" width="16.2" height="14.4" fill="#ffffff" stroke="#080808" stroke-width="1.3"/>
<text x="37.85" y="431.25" font-size="9.4" font-weight="bold" text-anchor="middle" fill="#111" stroke="#111" stroke-width="0.22">2</text>
<rect x="82.65" y="420.85" width="16.2" height="14.4" fill="#ffffff" stroke="#080808" stroke-width="1.3"/>
<text x="90.75" y="431.25" font-size="9.4" font-weight="bold" text-anchor="middle" fill="#111" stroke="#111" stroke-width="0.22">10</text>
<path d="M104.6,417.3 L108.2,421.3 L106.6,421.3 L106.6,433.6 L108.2,433.6 L104.6,437.6 L101,433.6 L102.6,433.6 L102.6,421.3 L101,421.3Z" fill="#ff0000" stroke="#222a55" stroke-width="0.75" stroke-linejoin="miter"/>
<text x="108.15" y="432.05" font-size="10.2" font-weight="bold" text-anchor="start" fill="#111" stroke="#111" stroke-width="0.22" textLength="32.2" lengthAdjust="spacingAndGlyphs">84.87%</text>
<rect x="98.55" y="446.95" width="16.5" height="14.9" fill="#ffffff" stroke="#080808" stroke-width="1.3"/>
<text x="106.8" y="457.6" font-size="9.4" font-weight="bold" text-anchor="middle" fill="#111" stroke="#111" stroke-width="0.22">14</text>
<rect x="248.15" y="446.95" width="16.1" height="14.9" fill="#ffffff" stroke="#080808" stroke-width="1.3"/>
<text x="256.2" y="457.6" font-size="9.4" font-weight="bold" text-anchor="middle" fill="#111" stroke="#111" stroke-width="0.22">27</text>
<path d="M272.7,443.9 L276.5,447.9 L274.7,447.9 L274.7,461 L276.5,461 L272.7,465 L268.9,461 L270.7,461 L270.7,447.9 L268.9,447.9Z" fill="#ff0000" stroke="#222a55" stroke-width="0.75" stroke-linejoin="miter"/>
<text x="276.65" y="459.32" font-size="10.4" font-weight="bold" text-anchor="start" fill="#111" stroke="#111" stroke-width="0.22" textLength="26.8" lengthAdjust="spacingAndGlyphs">74.7%</text>
<rect x="91.65" y="473.7" width="16.6" height="15.1" fill="#ffffff" stroke="#080808" stroke-width="1.3"/>
<text x="99.95" y="484.45" font-size="9.4" font-weight="bold" text-anchor="middle" fill="#111" stroke="#111" stroke-width="0.22">13</text>
<rect x="288.15" y="473.7" width="16.1" height="15.1" fill="#ffffff" stroke="#080808" stroke-width="1.3"/>
<text x="296.2" y="484.45" font-size="9.4" font-weight="bold" text-anchor="middle" fill="#111" stroke="#111" stroke-width="0.22">35</text>
<path d="M312.2,471.1 L316.1,475.1 L314.2,475.1 L314.2,487.75 L316.1,487.75 L312.2,491.75 L308.3,487.75 L310.2,487.75 L310.2,475.1 L308.3,475.1Z" fill="#ff0000" stroke="#222a55" stroke-width="0.75" stroke-linejoin="miter"/>
<text x="315.45" y="485.87" font-size="10.4" font-weight="bold" text-anchor="start" fill="#111" stroke="#111" stroke-width="0.22" textLength="27.3" lengthAdjust="spacingAndGlyphs">40.3%</text>
<rect x="201.6" y="308.4" width="91.5" height="22.9" fill="#ffffff" stroke="#8c98b8" stroke-width="1"/>
<rect x="203.2" y="310.4" width="11.2" height="19.3" fill="#ffffff" stroke="#3a3a3a" stroke-width="0.9"/>
<path d="M208.8,311 L211.9,314.8 L210.4,314.8 L210.4,325.1 L211.9,325.1 L208.8,328.9 L205.7,325.1 L207.2,325.1 L207.2,314.8 L205.7,314.8Z" fill="#ff0000" stroke="#222a55" stroke-width="0.5" stroke-linejoin="miter"/>
<text x="216" y="321.38" font-size="7" font-weight="bold" text-anchor="start" fill="#111" stroke="#111" stroke-width="0.22" textLength="71.2" lengthAdjust="spacing">Cumulative percentage</text>
<rect x="201.6" y="338.2" width="92.4" height="24.1" fill="#ffffff" stroke="#2a2a2a" stroke-width="1.15"/>
<rect x="202.8" y="340.3" width="20.2" height="9.7" fill="#eaa8f8" stroke="#333" stroke-width="1.2"/>
<rect x="202.8" y="351.2" width="20.2" height="10" fill="#22f8f8" stroke="#333" stroke-width="1.2"/>
<text x="225.7" y="348.07" font-size="9.3" font-weight="normal" text-anchor="start" fill="#262626" textLength="67" lengthAdjust="spacingAndGlyphs">Frequency (Train)</text>
<text x="225.7" y="359.27" font-size="9.3" font-weight="normal" text-anchor="start" fill="#262626" textLength="63.5" lengthAdjust="spacingAndGlyphs">Frequency (Test)</text>
</g>
</svg>
</body></html>
